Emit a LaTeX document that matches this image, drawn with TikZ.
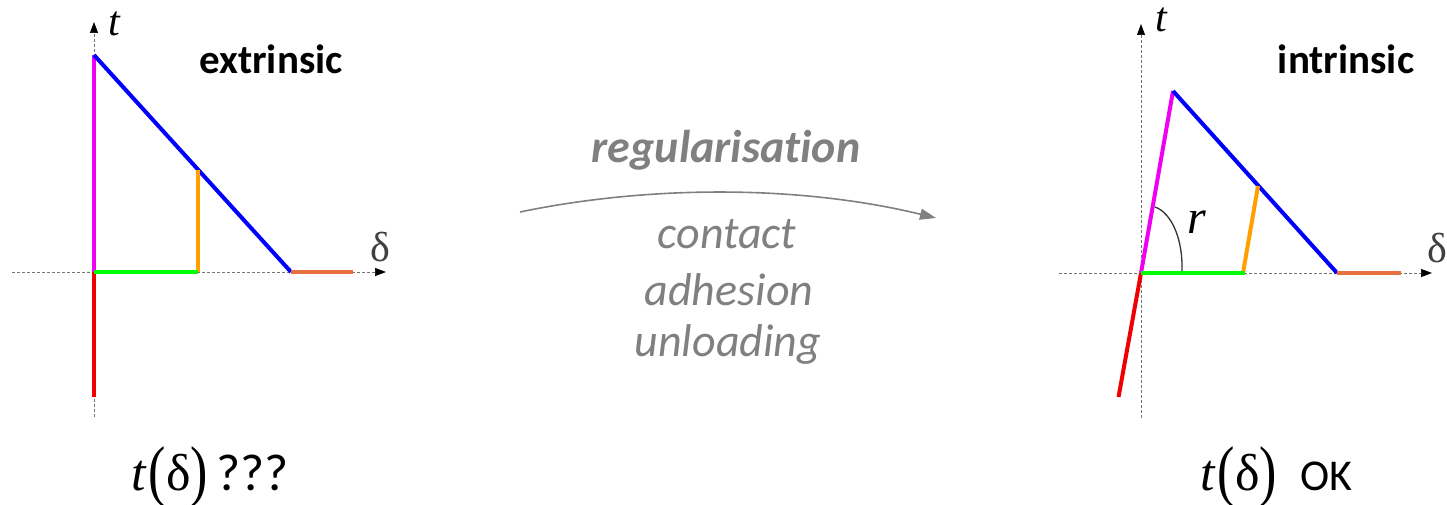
\documentclass[tikz,border=0pt]{standalone}
\usepackage{fontspec}
\setmainfont{Carlito}[Ligatures=NoCommon]
\newfontfamily\myserif{Liberation Serif}
\usepackage{graphicx}
\usetikzlibrary{arrows.meta}
\definecolor{cgray}{RGB}{128,128,128}
\definecolor{cmag}{RGB}{240,0,240}
\definecolor{cblue}{RGB}{0,0,255}
\definecolor{corange}{RGB}{255,160,0}
\definecolor{cgreen}{RGB}{0,255,0}
\definecolor{cred}{RGB}{240,0,0}
\definecolor{cbrown}{RGB}{230,112,64}
\begin{document}
\begin{tikzpicture}[x=1pt,y=-1pt,
  seg/.style={line width=4pt},
  axisline/.style={draw=black!55, line width=0.7pt, densely dashed},
  axisarrow/.style={axisline, -{Triangle[length=11pt,width=8pt,color=black]}},
  lbl/.style={inner sep=0pt, font=\myserif\itshape\fontsize{42}{50}\selectfont},
  dlbl/.style={inner sep=0pt, font=\myserif\fontsize{42}{50}\selectfont, text=black!75},
  title/.style={inner sep=0pt, anchor=base, font=\bfseries\fontsize{41}{49}\selectfont},
  mid/.style={inner sep=0pt, anchor=base, text=cgray, font=\itshape\fontsize{46}{55}\selectfont},
  bottom/.style={inner sep=0pt, anchor=base west, font=\fontsize{52}{62}\selectfont}]
\useasboundingbox (0,0) rectangle (1447,505);
% ---------- left graph ----------
\coordinate (O1) at (94,272);
\coordinate (T1b) at (94,417);
\coordinate (T1t) at (94,22);
\coordinate (D1l) at (12,272);
\coordinate (D1r) at (386,272);
\coordinate (P1) at (94,55);
\coordinate (Z1) at (291,272);
\coordinate (Q1) at (198,272);
\coordinate (Q1t) at (198,169.6);
\coordinate (B1) at (353,272);
\coordinate (R1) at (94,397);
\draw[axisline] (T1b) -- (O1);
\draw[axisarrow] (O1) -- (T1t);
\draw[axisarrow] (D1l) -- (D1r);
\draw[seg, cred] (O1) -- (R1);
\draw[seg, cmag] (O1) -- (P1);
\draw[seg, cblue] (P1) -- (Z1);
\draw[seg, corange] (Q1) -- (Q1t);
\draw[seg, cgreen] (O1) -- (Q1);
\draw[seg, cbrown] (Z1) -- (B1);
\node[lbl] (t1) at (114,24) {t};
\node[dlbl] (d1) at (380,247) {δ};
\node[title] (ext) at (271,74) {extrinsic};
\node[bottom] (f1) at (131,490) {{\myserif\itshape t}\kern0.06em\raisebox{-0.06em}{\scalebox{1}[1.3]{\myserif(}}{\myserif δ}\raisebox{-0.06em}{\scalebox{1}[1.3]{\myserif)}}\,???};
% ---------- right graph ----------
\coordinate (O2) at (1141,273);
\coordinate (T2b) at (1141,418);
\coordinate (T2t) at (1141,24);
\coordinate (D2l) at (1059,273);
\coordinate (D2r) at (1432,273);
\coordinate (P2) at (1173,91);
\coordinate (Z2) at (1337,273);
\coordinate (G2) at (1245,273);
\coordinate (Q2) at (1243,273);
\coordinate (Q2t) at (1258,186);
\coordinate (B2) at (1401,273);
\coordinate (R2) at (1118.5,397);
\coordinate (A2s) at (1155,207);
\coordinate (A2e) at (1182,271);
\draw[axisline] (T2b) -- (O2);
\draw[axisarrow] (O2) -- (T2t);
\draw[axisarrow] (D2l) -- (D2r);
\draw[seg, cred] (O2) -- (R2);
\draw[seg, cmag] (O2) -- (P2);
\draw[seg, cblue] (P2) -- (Z2);
\draw[seg, corange] (Q2) -- (Q2t);
\draw[seg, cgreen] (O2) -- (G2);
\draw[seg, cbrown] (Z2) -- (B2);
\draw[line width=1.3pt, black!80] (A2s) .. controls (1172,213) and (1183,240) .. (A2e);
\node[lbl] (t2) at (1161,20) {t};
\node[lbl, font=\myserif\itshape\fontsize{48}{56}\selectfont] (r2) at (1197,222) {r};
\node[dlbl] (d2) at (1437,248) {δ};
\node[title] (int) at (1346,74) {intrinsic};
\node[bottom] (f2) at (1200,490) {{\myserif\itshape t}\kern0.06em\raisebox{-0.06em}{\scalebox{1}[1.3]{\myserif(}}{\myserif δ}\raisebox{-0.06em}{\scalebox{1}[1.3]{\myserif)}}\;\,{\fontsize{44}{52}\selectfont OK}};
% ---------- middle ----------
\coordinate (As) at (520,212);
\coordinate (Ae) at (936,218);
\draw[cgray, line width=1.6pt, -{Stealth[length=16pt,width=11pt,inset=0pt]}] (As) .. controls (650,185) and (800,185) .. (Ae);
\node[mid, font=\bfseries\itshape\fontsize{46}{55}\selectfont] (reg) at (726,163) {regularisation};
\node[mid] (c) at (727,248) {contact};
\node[mid] (a) at (729,305) {adhesion};
\node[mid] (u) at (728,356) {unloading};
\end{tikzpicture}
\end{document}
